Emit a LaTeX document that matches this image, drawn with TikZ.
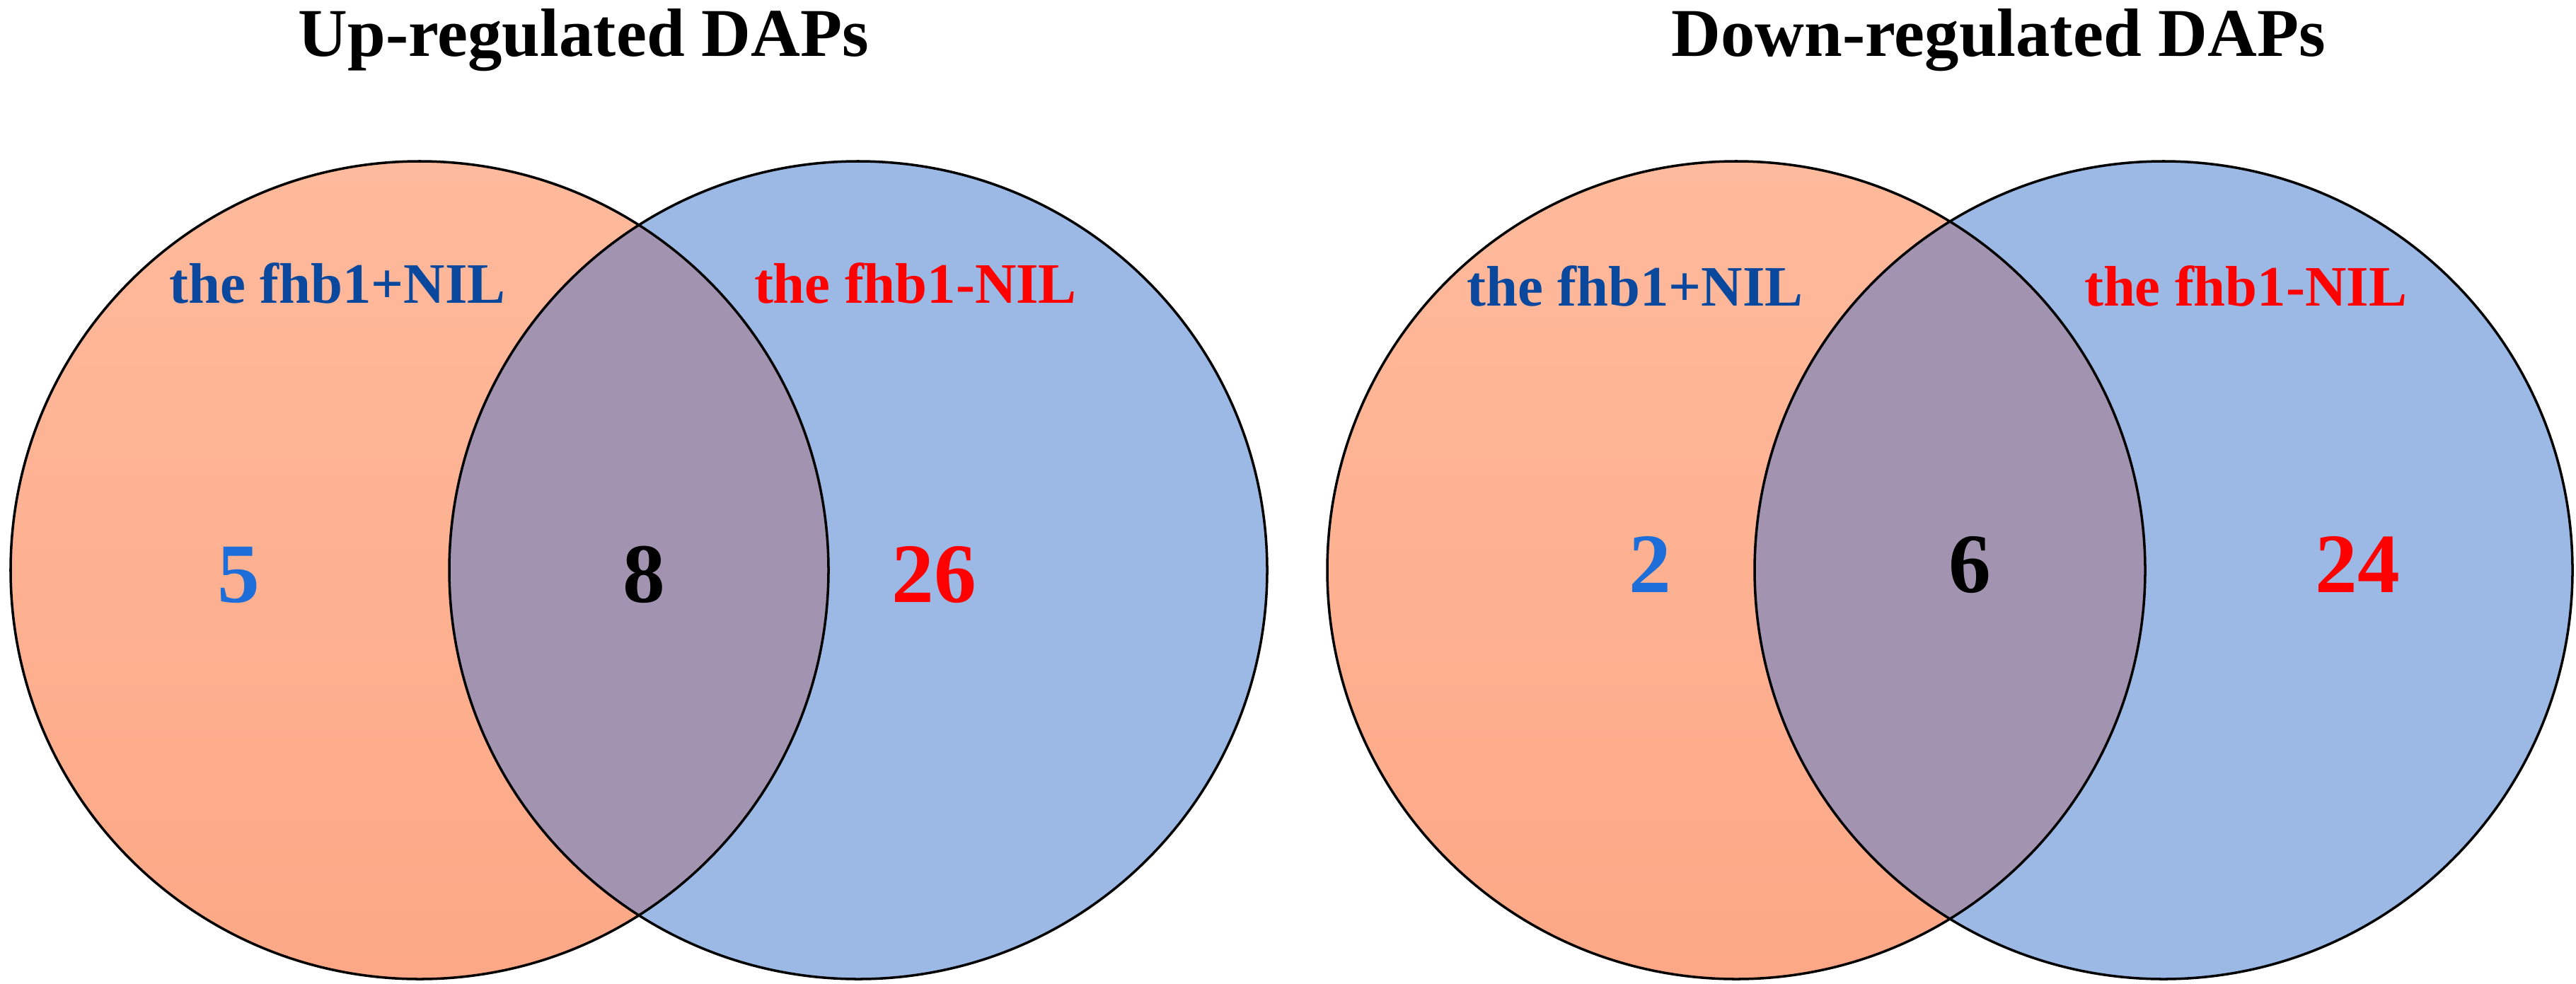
\documentclass[tikz,border=0pt]{standalone}
\usepackage{fontspec}
\setmainfont{Liberation Serif}
\definecolor{orangetop}{RGB}{254,186,156}
\definecolor{orangebot}{RGB}{252,168,134}
\definecolor{bluefill}{RGB}{155,185,228}
\definecolor{overlapfill}{RGB}{162,148,176}
\definecolor{plusblue}{RGB}{10,72,158}
\definecolor{numblue}{RGB}{30,110,218}
\definecolor{minusred}{RGB}{255,0,0}
\tikzset{
  heading/.style={font=\fontsize{27.5}{30}\selectfont\bfseries, anchor=base},
  setlabel/.style={font=\fontsize{23}{26}\selectfont\bfseries, anchor=base},
  countlbl/.style={font=\fontsize{34}{38}\selectfont\bfseries, anchor=base},
  rim/.style={draw=black, line width=1pt},
}
\begin{document}
\begin{tikzpicture}
  \useasboundingbox (0,0) rectangle (36.41,13.90);
  % set centres
  \coordinate (upP) at (5.93,5.84);
  \coordinate (upM) at (12.13,5.84);
  \coordinate (dnP) at (24.54,5.84);
  \coordinate (dnM) at (30.58,5.84);
  % up-regulated
  \shade[top color=orangetop, bottom color=orangebot] (upP) circle (5.78);
  \fill[bluefill] (upM) circle (5.78);
  \begin{scope}
    \clip (upP) circle (5.78);
    \fill[overlapfill] (upM) circle (5.78);
  \end{scope}
  \draw[rim] (upP) circle (5.78);
  \draw[rim] (upM) circle (5.78);
  % down-regulated
  \shade[top color=orangetop, bottom color=orangebot] (dnP) circle (5.78);
  \fill[bluefill] (dnM) circle (5.78);
  \begin{scope}
    \clip (dnP) circle (5.78);
    \fill[overlapfill] (dnM) circle (5.78);
  \end{scope}
  \draw[rim] (dnP) circle (5.78);
  \draw[rim] (dnM) circle (5.78);
  % labels
  \node[heading] (upT) at (8.25,13.10) {Up-regulated DAPs};
  \node[heading] (dnT) at (28.25,13.10) {Down-regulated DAPs};
  \node[setlabel, text=plusblue] (upPL) at (4.77,9.62) {the fhb1+NIL};
  \node[setlabel, text=minusred] (upML) at (12.94,9.62) {the fhb1-NIL};
  \node[setlabel, text=plusblue] (dnPL) at (23.11,9.58) {the fhb1+NIL};
  \node[setlabel, text=minusred] (dnML) at (31.74,9.58) {the fhb1-NIL};
  \node[countlbl, text=numblue] (upA) at (3.37,5.39) {5};
  \node[countlbl] (upB) at (9.10,5.39) {8};
  \node[countlbl, text=minusred] (upC) at (13.20,5.39) {26};
  \node[countlbl, text=numblue] (dnA) at (23.32,5.53) {2};
  \node[countlbl] (dnB) at (27.84,5.53) {6};
  \node[countlbl, text=minusred] (dnC) at (33.32,5.53) {24};
\end{tikzpicture}
\end{document}
